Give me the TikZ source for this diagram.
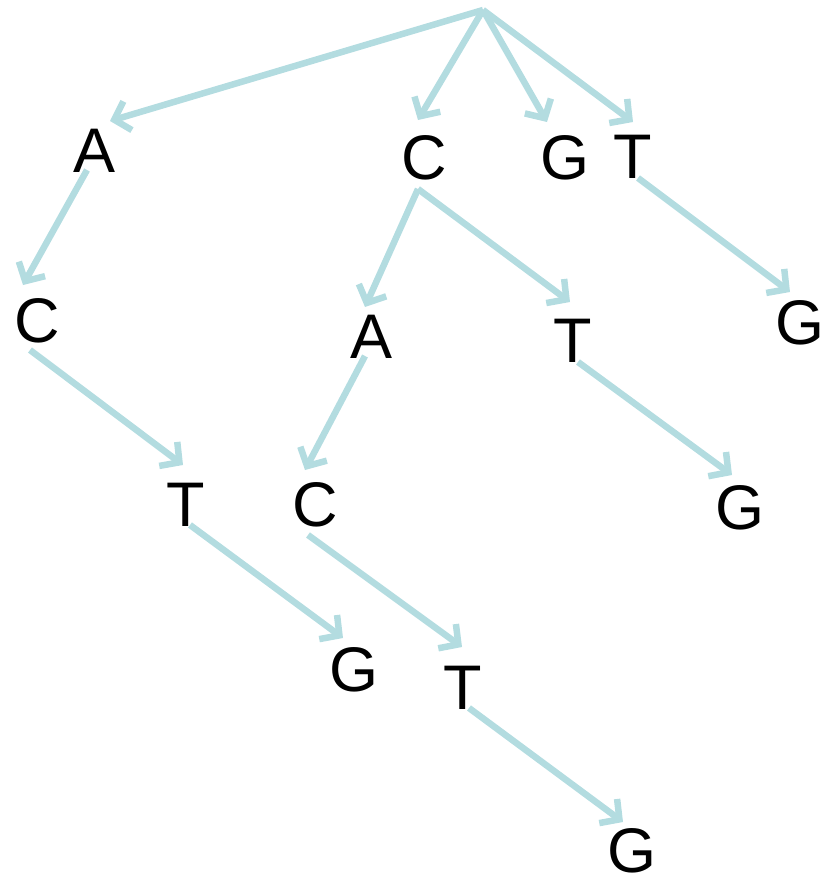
\documentclass[tikz,border=0pt]{standalone}
\usepackage{fontspec}
\setmainfont{Liberation Sans}
\usetikzlibrary{arrows.meta}
\definecolor{edgeblue}{HTML}{B3DCE0}
\tikzset{
  letter/.style={inner sep=0pt, font=\fontsize{63}{63}\selectfont, text=black},
  edge/.style={draw=edgeblue, line width=6.5pt, -{Straight Barb[length=14pt,width=30pt]}}
}
\begin{document}
\begin{tikzpicture}[x=1pt,y=-1pt]
\useasboundingbox (0,0) rectangle (833,883);
% letters
\node[letter] (A1) at (95,151) {A};
\node[letter] (C1) at (424,158) {C};
\node[letter] (G1) at (565,158) {G};
\node[letter] (T1) at (633,157) {T};
\node[letter] (C2) at (37,321) {C};
\node[letter] (A2) at (372,337) {A};
\node[letter] (T2) at (573,341) {T};
\node[letter] (G2) at (800,323) {G};
\node[letter] (T3) at (186,505) {T};
\node[letter] (C3) at (315,505) {C};
\node[letter] (G3) at (740,508) {G};
\node[letter] (G4) at (354,670) {G};
\node[letter] (T4) at (463,688) {T};
\node[letter] (G5) at (632,851) {G};
% connector end points
\coordinate (root) at (483,10);
\coordinate (eA1) at (110,121);
\coordinate (eC1) at (418,120);
\coordinate (eG1) at (547,122);
\coordinate (eT1) at (633,122);
\coordinate (sA1) at (87,170);
\coordinate (eC2) at (23,285);
\coordinate (sC1) at (418,189);
\coordinate (eA2) at (365,307);
\coordinate (eT2) at (570,302);
\coordinate (sT1) at (638,178);
\coordinate (eG2) at (790,292);
\coordinate (sC2) at (30,350);
\coordinate (eT3) at (183,465);
\coordinate (sA2) at (365,356);
\coordinate (eC3) at (305,470);
\coordinate (sT2) at (578,362);
\coordinate (eG3) at (732,475);
\coordinate (sT3) at (190,525);
\coordinate (eG4) at (343,638);
\coordinate (sC3) at (308,535);
\coordinate (eT4) at (462,647);
\coordinate (sT4) at (469,708);
\coordinate (eG5) at (623,822);
% connectors
\draw[edge] (root) -- (eA1);
\draw[edge] (root) -- (eC1);
\draw[edge] (root) -- (eG1);
\draw[edge] (root) -- (eT1);
\draw[edge] (sA1) -- (eC2);
\draw[edge] (sC1) -- (eA2);
\draw[edge] (sC1) -- (eT2);
\draw[edge] (sT1) -- (eG2);
\draw[edge] (sC2) -- (eT3);
\draw[edge] (sA2) -- (eC3);
\draw[edge] (sT2) -- (eG3);
\draw[edge] (sT3) -- (eG4);
\draw[edge] (sC3) -- (eT4);
\draw[edge] (sT4) -- (eG5);
\end{tikzpicture}
\end{document}
